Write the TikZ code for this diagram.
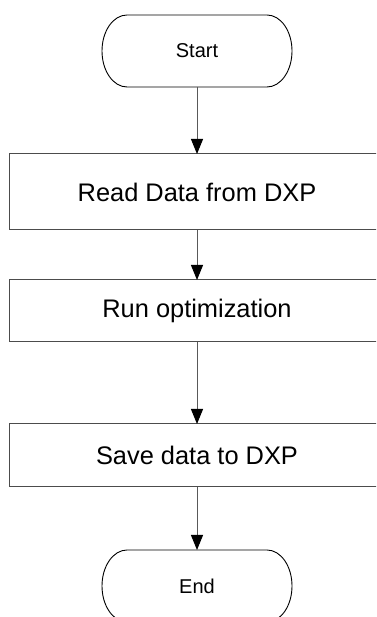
\documentclass[tikz,border=0pt]{standalone}
\usepackage{fontspec}
\setmainfont{Liberation Sans}
\usetikzlibrary{arrows.meta}
\begin{document}
\begin{tikzpicture}[x=1pt,y=1pt,
  procbox/.style={draw=black!70,line width=1pt,rectangle,minimum width=376pt,inner sep=0pt,outer sep=0pt,font=\fontsize{25.4}{30}\selectfont},
  term/.style={draw=none,rectangle,minimum width=190pt,minimum height=72pt,inner sep=0pt,outer sep=0pt,font=\fontsize{20}{24}\selectfont},
  termline/.style={draw=black,line width=0.9pt},
  arr/.style={draw=black!65,line width=1pt,-{Triangle[width=12pt,length=15pt,color=black]}}]
\path[use as bounding box,clip] (0,0) rectangle (376,617);
\fill[white] (0,0) rectangle (376,617);
\node[term] (start) at (197,566) {Start};
\node[procbox,minimum height=76pt] (b1) at (197,425) {Read Data from DXP};
\node[procbox,minimum height=62pt] (b2) at (197,306) {Run optimization};
\node[procbox,minimum height=63pt] (b3) at (197,161.5) {Save data to DXP};
\node[term] (end) at (197,31) {End};
\foreach \n in {start,end}{
  \draw[termline] ([xshift=25pt]\n.north west) -- ([xshift=-25pt]\n.north east)
    arc[start angle=90,end angle=-90,x radius=25pt,y radius=36pt]
    -- ([xshift=25pt]\n.south west)
    arc[start angle=270,end angle=90,x radius=25pt,y radius=36pt] -- cycle;
}
\draw[arr] (start) -- (b1);
\draw[arr] (b1) -- (b2);
\draw[arr] (b2) -- (b3);
\draw[arr] (b3) -- (end);
\end{tikzpicture}
\end{document}
